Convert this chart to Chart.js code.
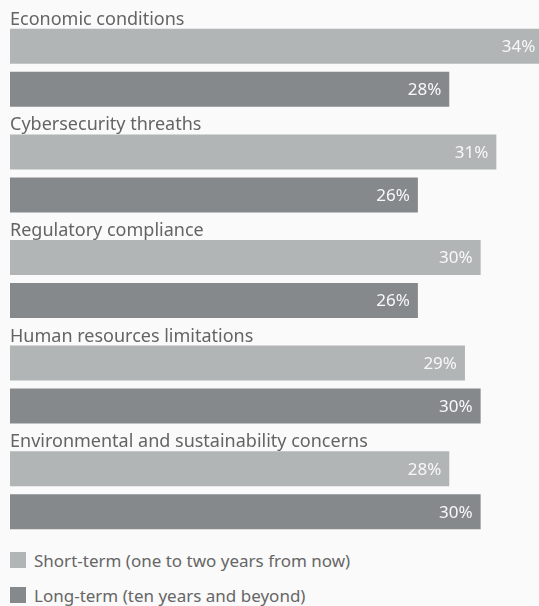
<!DOCTYPE html>
<html>
<head>
<meta charset="utf-8">
<script src="https://cdn.jsdelivr.net/npm/chart.js@4.4.1/dist/chart.umd.min.js"></script>
<style>
  html, body { margin: 0; padding: 0; background: #fafafa; }
  #wrap { position: relative; width: 539px; height: 606px; overflow: hidden; }
  #plot-box { position: absolute; left: 0; top: 0; width: 539px; height: 545px; }
  #legend { position: absolute; left: 10px; top: 552px; font-family: "Noto Sans", sans-serif; font-size: 17px; color: #666; }
  .leg-item { display: flex; align-items: center; height: 16px; margin-bottom: 19px; white-space: nowrap; }
  .leg-box { width: 16px; height: 16px; margin-right: 8px; }
</style>
</head>
<body>
<div id="wrap">
  <div id="plot-box"><canvas id="risk-plot"></canvas></div>
  <div id="legend"></div>
</div>
<script>
let categories = ['Economic conditions', 'Cybersecurity threaths', 'Regulatory compliance',
    'Human resources limitations', 'Environmental and sustainability concerns']
let short_term = [34, 31, 30, 29, 28]
let long_term = [28, 26, 26, 30, 30]
let series_names = ['Short-term (one to two years from now)', 'Long-term (ten years and beyond)']
let series_colors = ['rgb(178,181,182)', 'rgb(134,137,140)']

let label_font = '18px "Noto Sans", sans-serif'
let value_font = '17px "Noto Sans", sans-serif'

// category title above each group + value inside bar end
let bar_text_plugin = {
    id: 'barText',
    afterDatasetsDraw(chart) {
        let ctx = chart.ctx
        ctx.save()
        let top_meta = chart.getDatasetMeta(0)
        ctx.font = label_font
        ctx.fillStyle = 'rgb(100,100,100)'
        ctx.textAlign = 'left'
        ctx.textBaseline = 'alphabetic'
        top_meta.data.forEach((bar, i) => {
            ctx.fillText(categories[i], chart.chartArea.left, bar.y - bar.height / 2 - 4)
        })
        ctx.font = value_font
        ctx.fillStyle = 'rgb(248,248,248)'
        ctx.textAlign = 'right'
        ctx.textBaseline = 'middle'
        chart.data.datasets.forEach((ds, d) => {
            chart.getDatasetMeta(d).data.forEach((bar, i) => {
                ctx.fillText(ds.data[i] + '%', bar.x - 8, bar.y + 1)
            })
        })
        ctx.restore()
    }
}

function build_legend() {
    let box = document.getElementById('legend')
    series_names.forEach((name, i) => {
        let item = document.createElement('div')
        item.className = 'leg-item'
        let sw = document.createElement('span')
        sw.className = 'leg-box'
        sw.style.background = series_colors[i]
        item.appendChild(sw)
        item.appendChild(document.createTextNode(name))
        box.appendChild(item)
    })
}

document.addEventListener('DOMContentLoaded', () => {
    Chart.defaults.responsive = true
    Chart.defaults.maintainAspectRatio = false
    Chart.defaults.animation = false

    let ctx = document.getElementById('risk-plot')
    new Chart(ctx, {
        type: 'bar',
        data: {
            labels: categories,
            datasets: [
                {label: series_names[0], data: short_term, backgroundColor: series_colors[0]},
                {label: series_names[1], data: long_term, backgroundColor: series_colors[1]},
            ]
        },
        options: {
            indexAxis: 'y',
            categoryPercentage: 86 / 105.6,
            barPercentage: 35 / 43,
            layout: {padding: {top: 15, bottom: 2, left: 10, right: 0}},
            scales: {
                x: {display: false, min: 0, max: 33.72},
                y: {display: false}
            },
            plugins: {
                legend: {display: false},
                tooltip: {enabled: false}
            }
        },
        plugins: [bar_text_plugin]
    })
    build_legend()
})
</script>
</body>
</html>
